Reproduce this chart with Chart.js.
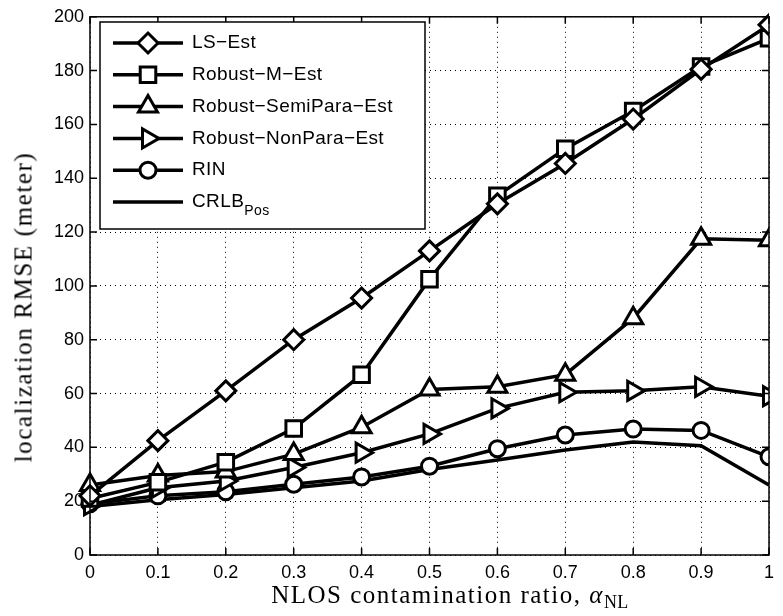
<!DOCTYPE html>
<html>
<head>
<meta charset="utf-8">
<script src="https://cdn.jsdelivr.net/npm/chart.js@4.4.0/dist/chart.umd.min.js"></script>
<style>
  body { margin: 0; background: #fff; }
  #wrap { position: relative; width: 783px; height: 616px; }
  .axis-title {
    position: absolute;
    white-space: nowrap;
    font-family: "Liberation Serif", "Times New Roman", serif;
    color: #000;
    line-height: 1;
  }
  .xtitle { left: 450px; top: 582px; font-size: 25px; letter-spacing: 1.5px; transform: translateX(-50%); }
  .ytitle { left: 23px; top: 307px; font-size: 25px; letter-spacing: 1.6px; transform: translate(-50%, -50%) rotate(-90deg); }
  .xtitle sub { font-size: 0.72em; vertical-align: -0.3em; letter-spacing: 0.5px; }
</style>
</head>
<body>
<div id="wrap">
  <canvas id="rmseChart" width="783" height="616"></canvas>
  <div class="axis-title xtitle">NLOS contamination ratio, <i>α</i><sub>NL</sub></div>
  <div class="axis-title ytitle">localization RMSE (meter)</div>
</div>
<script>
const xValues = [0, 0.1, 0.2, 0.3, 0.4, 0.5, 0.6, 0.7, 0.8, 0.9, 1];
const yTicks = [0, 20, 40, 60, 80, 100, 120, 140, 160, 180, 200];

const seriesNames = ["LS\u2212Est", "Robust\u2212M\u2212Est", "Robust\u2212SemiPara\u2212Est", "Robust\u2212NonPara\u2212Est", "RIN", "CRLB"];

const lsEst = [22, 42.5, 61, 80, 95.5, 113, 130.5, 145.5, 162, 180.5, 197];
const robustM = [21, 27, 34.5, 47, 67, 102.5, 133.5, 151, 165, 181.5, 192];
const semiPara = [26, 29.5, 31, 37.5, 47.5, 61.5, 62.5, 67, 88, 117.5, 117];
const nonPara = [18.5, 25, 27.5, 32.5, 38, 45, 54.5, 60.5, 61, 62.5, 59];
const rin = [19, 22, 23.5, 26.3, 29, 33, 39.5, 44.6, 46.8, 46.3, 36.5];
const crlb = [18, 20.5, 22.5, 25, 27.5, 31.8, 35.3, 39, 42, 40.6, 26];

const markers = [
  { pointStyle: "rectRot", radius: 10, rotation: 0 },
  { pointStyle: "rect", radius: 11, rotation: 0 },
  { pointStyle: "triangle", radius: 11, rotation: 0 },
  { pointStyle: "triangle", radius: 11, rotation: 90 },
  { pointStyle: "circle", radius: 8, rotation: 0 },
  { pointStyle: false, radius: 0, rotation: 0 },
];

const tickFont = { family: "'Liberation Sans', Arial, sans-serif", size: 18 };

function toPoints(values) {
  return values.map((v, i) => ({ x: xValues[i], y: v }));
}

function makeDataset(values, idx) {
  const m = markers[idx];
  return {
    label: seriesNames[idx],
    data: toPoints(values),
    borderColor: "#000",
    borderWidth: 3.5,
    backgroundColor: "#fff",
    pointStyle: m.pointStyle,
    pointRadius: m.radius,
    pointRotation: m.rotation,
    pointBackgroundColor: "#fff",
    pointBorderColor: "#000",
    pointBorderWidth: 3,
    tension: 0,
    clip: { left: 14, top: 14, right: 0, bottom: 5 },
  };
}

// box, inward ticks and the legend, drawn like the matlab figure
const frameAndLegend = {
  id: "frameAndLegend",
  afterDraw(chart) {
    const ctx = chart.ctx;
    const area = chart.chartArea;
    const xs = chart.scales.x;
    const ys = chart.scales.y;
    ctx.save();
    ctx.strokeStyle = "#000";
    ctx.lineWidth = 1.5;
    ctx.setLineDash([]);
    ctx.strokeRect(area.left, area.top, area.right - area.left, area.bottom - area.top);

    ctx.beginPath();
    xValues.forEach((v) => {
      const px = xs.getPixelForValue(v);
      ctx.moveTo(px, area.bottom);
      ctx.lineTo(px, area.bottom - 7);
      ctx.moveTo(px, area.top);
      ctx.lineTo(px, area.top + 7);
    });
    yTicks.forEach((v) => {
      const py = ys.getPixelForValue(v);
      ctx.moveTo(area.left, py);
      ctx.lineTo(area.left + 7, py);
      ctx.moveTo(area.right, py);
      ctx.lineTo(area.right - 7, py);
    });
    ctx.stroke();

    // legend
    const box = { left: 100, top: 22, width: 325, height: 207 };
    ctx.fillStyle = "#fff";
    ctx.fillRect(box.left, box.top, box.width, box.height);
    ctx.lineWidth = 1.5;
    ctx.strokeRect(box.left, box.top, box.width, box.height);

    ctx.textBaseline = "middle";
    ctx.letterSpacing = "0.4px";
    seriesNames.forEach((name, i) => {
      const y = 43 + i * 31.8;
      ctx.strokeStyle = "#000";
      ctx.lineWidth = 3.5;
      ctx.beginPath();
      ctx.moveTo(113, y);
      ctx.lineTo(183, y);
      ctx.stroke();
      const m = markers[i];
      if (m.pointStyle) {
        ctx.fillStyle = "#fff";
        ctx.lineWidth = 3;
        Chart.helpers.drawPoint(ctx, {
          pointStyle: m.pointStyle,
          radius: m.radius,
          rotation: m.rotation,
          borderWidth: 3,
        }, 148, y);
      }
      ctx.fillStyle = "#000";
      ctx.font = "19px 'Liberation Sans', Arial, sans-serif";
      ctx.fillText(name, 192, y);
      if (i === seriesNames.length - 1) {
        const w = ctx.measureText(name).width;
        ctx.font = "14px 'Liberation Sans', Arial, sans-serif";
        ctx.fillText("Pos", 192 + w, y + 9);
      }
    });
    ctx.restore();
  },
};

const ctx = document.getElementById("rmseChart");

new Chart(ctx, {
  type: "line",
  data: {
    datasets: [
      makeDataset(lsEst, 0),
      makeDataset(robustM, 1),
      makeDataset(semiPara, 2),
      makeDataset(nonPara, 3),
      makeDataset(rin, 4),
      makeDataset(crlb, 5),
    ],
  },
  options: {
    responsive: false,
    animation: false,
    layout: { padding: { top: 8, right: 3, left: 0, bottom: 0 } },
    scales: {
      x: {
        type: "linear",
        min: 0,
        max: 1,
        afterFit: (scale) => { scale.height = 61; },
        afterBuildTicks: (scale) => { scale.ticks = xValues.map((v) => ({ value: v })); },
        grid: { color: "#000", lineWidth: 1, drawTicks: false },
        border: { display: false, dash: [1, 4] },
        ticks: {
          color: "#000",
          font: tickFont,
          padding: 7,
          maxRotation: 0,
          callback: (value) => String(Math.round(value * 10) / 10),
        },
      },
      y: {
        type: "linear",
        min: 0,
        max: 200,
        afterFit: (scale) => { scale.width = 90; },
        afterBuildTicks: (scale) => { scale.ticks = yTicks.map((v) => ({ value: v })); },
        grid: { color: "#000", lineWidth: 1, drawTicks: false },
        border: { display: false, dash: [1, 4] },
        ticks: {
          color: "#000",
          font: tickFont,
          padding: 6,
        },
      },
    },
    plugins: {
      legend: { display: false },
      tooltip: { enabled: false },
    },
  },
  plugins: [frameAndLegend],
});
</script>
</body>
</html>
